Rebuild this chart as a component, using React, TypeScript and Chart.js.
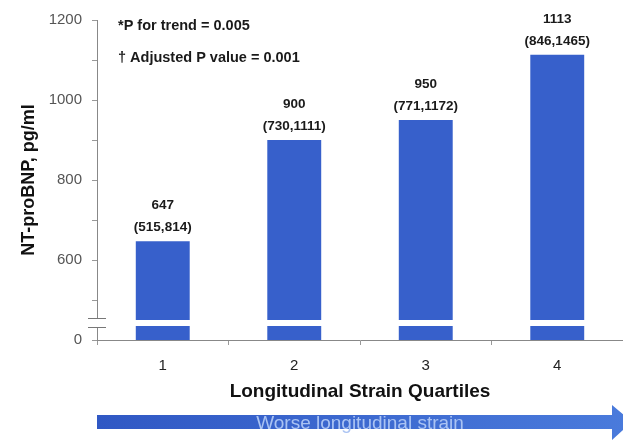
import { useEffect, useRef } from 'react';
import { Chart, registerables } from 'chart.js';

Chart.register(...registerables);

const categories = ['1', '2', '3', '4'];
const medians = [647, 900, 950, 1113];
const ciLow = [515, 730, 771, 846];
const ciHigh = [814, 1111, 1172, 1465];
const axisMin = 400;
const axisMax = 1200;
const axisStep = 100;
const yTickLabels: Record<number, string> = { 400: '0', 600: '600', 800: '800', 1000: '1000', 1200: '1200' };
const breakLow = 435;
const breakHigh = 450;
const notes = ['*P for trend = 0.005', '\u2020 Adjusted P value = 0.001'];
const arrowText = 'Worse longitudinal strain';
const xTitle = 'Longitudinal Strain Quartiles';
const yTitle = 'NT-proBNP, pg/ml';

const BAR = '#3760cb';
const FONT = 'Arial, "Liberation Sans", sans-serif';

const extrasPlugin = {
  id: 'extras',
  afterDatasetsDraw(chart: any) {
    const { ctx, chartArea, scales } = chart;
    const y = scales.y;
    const yTop = y.getPixelForValue(breakHigh);
    const yBot = y.getPixelForValue(breakLow);
    ctx.save();
    ctx.fillStyle = '#ffffff';
    ctx.fillRect(chartArea.left + 1, yTop, chartArea.right - chartArea.left, yBot - yTop);
    // value labels
    const meta = chart.getDatasetMeta(0);
    ctx.fillStyle = '#1a1a1a';
    ctx.font = `bold 13.5px ${FONT}`;
    ctx.textAlign = 'center';
    ctx.textBaseline = 'middle';
    meta.data.forEach((bar: any, i: number) => {
      ctx.fillText(String(medians[i]), bar.x, bar.y - 36);
      ctx.fillText(`(${ciLow[i]},${ciHigh[i]})`, bar.x, bar.y - 14);
    });
    ctx.restore();
  },
  afterDraw(chart: any) {
    const { ctx, chartArea, scales } = chart;
    const y = scales.y;
    const yTop = y.getPixelForValue(breakHigh);
    const yBot = y.getPixelForValue(breakLow);
    const ax = chartArea.left;
    ctx.save();
    // axis break
    ctx.fillStyle = '#ffffff';
    ctx.fillRect(ax - 3, yTop - 2, 6, yBot - yTop + 4);
    ctx.strokeStyle = '#777';
    ctx.lineWidth = 1;
    ctx.beginPath();
    ctx.moveTo(ax - 9, Math.round(yTop - 2) + 0.5);
    ctx.lineTo(ax + 9, Math.round(yTop - 2) + 0.5);
    ctx.moveTo(ax - 9, Math.round(yBot + 1) + 0.5);
    ctx.lineTo(ax + 9, Math.round(yBot + 1) + 0.5);
    ctx.stroke();

    // notes
    ctx.fillStyle = '#1a1a1a';
    ctx.font = `bold 14.5px ${FONT}`;
    ctx.textAlign = 'left';
    ctx.textBaseline = 'middle';
    ctx.fillText(notes[0], ax + 21, 26);
    ctx.fillText(notes[1], ax + 21, 58);

    // arrow
    const x0 = ax;
    const headStart = 612;
    const tip = 632;
    const grad = ctx.createLinearGradient(x0, 0, tip, 0);
    grad.addColorStop(0, '#3058c4');
    grad.addColorStop(1, '#4a7bdc');
    ctx.fillStyle = grad;
    ctx.beginPath();
    ctx.moveTo(x0, 415);
    ctx.lineTo(headStart, 415);
    ctx.lineTo(headStart, 405);
    ctx.lineTo(tip, 422);
    ctx.lineTo(headStart, 440);
    ctx.lineTo(headStart, 429);
    ctx.lineTo(x0, 429);
    ctx.closePath();
    ctx.fill();
    ctx.fillStyle = '#aac3f3';
    ctx.font = `19px ${FONT}`;
    ctx.textAlign = 'center';
    ctx.fillText(arrowText, (chartArea.left + chartArea.right) / 2, 424);
    ctx.restore();
  },
};

export default function App() {
  const ref = useRef<HTMLCanvasElement | null>(null);
  useEffect(() => {
    if (!ref.current) return;
    const chart = new Chart(ref.current, {
      type: 'bar',
      data: {
        labels: categories,
        datasets: [
          {
            data: medians,
            backgroundColor: BAR,
            borderWidth: 0,
            barPercentage: 0.41,
            categoryPercentage: 1,
          },
        ],
      },
      options: {
        animation: false,
        responsive: true,
        maintainAspectRatio: false,
        layout: { padding: { top: 20, right: 0, bottom: 0, left: 0 } },
        plugins: { legend: { display: false }, tooltip: { enabled: false } },
        scales: {
          x: {
            grid: { drawOnChartArea: false, drawTicks: true, tickLength: 5, color: '#999', offset: true },
            border: { display: true, color: '#888' },
            ticks: { font: { family: FONT, size: 15 }, color: '#222', padding: 12 },
            title: {
              display: true,
              text: xTitle,
              font: { family: FONT, size: 19, weight: 'bold' },
              color: '#111',
              padding: { top: 0, bottom: 40 },
            },
            afterFit: (s: any) => {
              s.height = 103;
            },
          },
          y: {
            min: axisMin,
            max: axisMax,
            ticks: {
              stepSize: axisStep,
              autoSkip: false,
              callback: (v: any) => yTickLabels[v as number] ?? '',
              font: { family: FONT, size: 15 },
              color: '#555',
              padding: 10,
            },
            grid: { drawOnChartArea: false, drawTicks: true, tickLength: 5, color: '#999' },
            border: { display: true, color: '#888' },
            title: {
              display: true,
              text: yTitle,
              font: { family: FONT, size: 18, weight: 'bold' },
              color: '#111',
              padding: { top: 18, bottom: 0 },
            },
            afterFit: (s: any) => {
              s.width = 97;
            },
          },
        },
      },
      plugins: [extrasPlugin],
    });
    return () => chart.destroy();
  }, []);
  return (
    <div style={{ position: 'absolute', left: 0, top: 0, width: 623, height: 443, background: '#fff' }}>
      <canvas ref={ref} />
    </div>
  );
}
